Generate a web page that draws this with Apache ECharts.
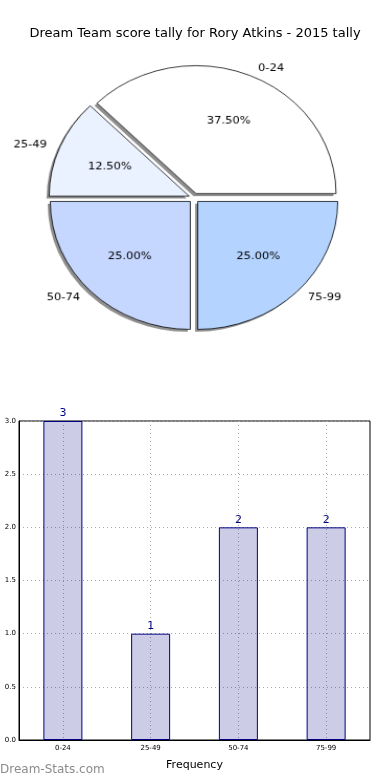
<!DOCTYPE html>
<html><head><meta charset="utf-8">
<script src="https://cdn.jsdelivr.net/npm/echarts@6/dist/echarts.min.js"></script>
<style>
html,body{margin:0;padding:0;background:#fff}
#wrap{position:relative;width:390px;height:780px}
#c{position:absolute;left:0;top:0;width:390px;height:780px}
#p{position:absolute;left:0;top:0;width:390px;height:390px;transform-origin:194px 198px;transform:scale(1.045,0.955)}
</style>
</head><body><div id="wrap"><div id="c"></div><div id="p"></div></div>
<script>
const titleText = 'Dream Team score tally for Rory Atkins - 2015 tally';
const categories = ['0-24', '25-49', '50-74', '75-99'];
const counts = [3, 1, 2, 2];
const pieColors = ['#ffffff', '#eaf1ff', '#c6d7ff', '#b4d4ff'];
const yTicks = [0, 0.5, 1, 1.5, 2, 2.5, 3];

const font = 'DejaVu Sans';
const chart = echarts.init(document.getElementById('c'), null, {renderer: 'canvas'});
const pieChart = echarts.init(document.getElementById('p'), null, {renderer: 'canvas'});

const pieCenter = [194, 198];
const R = 134;
const off = 5;

const pieData = categories.map((c, i) => ({
  name: c, value: counts[i], selected: true,
  itemStyle: {color: pieColors[i]}
}));
const plainData = categories.map((c, i) => ({name: c, value: counts[i], selected: true}));

chart.setOption({
  animation: false,
  title: {
    text: titleText, left: 'center', top: 22,
    textStyle: {fontFamily: font, fontSize: 13, fontWeight: 'normal', color: '#000'}
  },
  graphic: [{
    type: 'text', left: 0, top: 764,
    style: {text: 'Dream-Stats.com', fill: '#8c8c8c', font: '12px "DejaVu Sans"'}
  }],
  grid: {left: 19, right: 20, top: 421, bottom: 40, show: true, borderColor: '#000', borderWidth: 1, backgroundColor: 'transparent'},
  xAxis: {
    type: 'category', data: categories,
    name: 'Frequency', nameLocation: 'middle', nameGap: 20,
    nameTextStyle: {fontFamily: font, fontSize: 11, color: '#000'},
    axisLine: {lineStyle: {color: '#000'}},
    axisTick: {show: false, alignWithLabel: true},
    axisLabel: {fontFamily: font, fontSize: 7, color: '#000', margin: 5},
    splitLine: {show: true, alignWithLabel: true, lineStyle: {color: '#aaa', type: [1, 3], width: 1}}
  },
  yAxis: {
    type: 'value', min: 0, max: 3, interval: 0.5,
    axisLine: {show: true, lineStyle: {color: '#000'}},
    axisTick: {show: false},
    axisLabel: {fontFamily: font, fontSize: 7, color: '#000', margin: 3, formatter: v => v.toFixed(1)},
    splitLine: {show: true, lineStyle: {color: '#aaa', type: [1, 3], width: 1}}
  },
  series: [
    {
      type: 'bar', data: counts, barWidth: 39, z: 3,
      itemStyle: {color: 'rgba(0,0,128,0.2)', borderColor: '#000080', borderWidth: 1},
      label: {show: true, position: 'top', distance: 2, color: '#000080', fontFamily: font, fontSize: 11}
    }
  ]
});

pieChart.setOption({
  animation: false,
  series: [
    {
      type: 'pie', center: [pieCenter[0] - 2.5, pieCenter[1] + 2.5], radius: [0, R],
      clockwise: false, startAngle: 0, silent: true, z: 1,
      selectedMode: 'multiple', selectedOffset: off,
      itemStyle: {color: '#8f8f8f', borderWidth: 0},
      label: {show: false}, labelLine: {show: false},
      emphasis: {disabled: true},
      data: plainData
    },
    {
      type: 'pie', center: pieCenter, radius: [0, R], z: 2,
      clockwise: false, startAngle: 0,
      selectedMode: 'multiple', selectedOffset: off,
      avoidLabelOverlap: false,
      itemStyle: {borderColor: '#000', borderWidth: 0.8},
      label: {show: true, position: 'outside', fontFamily: font, fontSize: 11, color: '#000', formatter: '{b}'},
      labelLine: {show: false, length: 8, length2: 0},
      emphasis: {disabled: true},
      data: pieData
    },
    {
      type: 'pie', center: pieCenter, radius: [0, R * 1.18], z: 3,
      clockwise: false, startAngle: 0, silent: true, percentPrecision: 2,
      selectedMode: 'multiple', selectedOffset: off,
      itemStyle: {color: 'rgba(0,0,0,0)', borderWidth: 0},
      label: {show: true, position: 'inside', fontFamily: font, fontSize: 11, color: '#000',
        formatter: p => p.percent.toFixed(2) + '%'},
      labelLine: {show: false},
      emphasis: {disabled: true},
      data: plainData
    }
  ]
});
</script></body></html>
